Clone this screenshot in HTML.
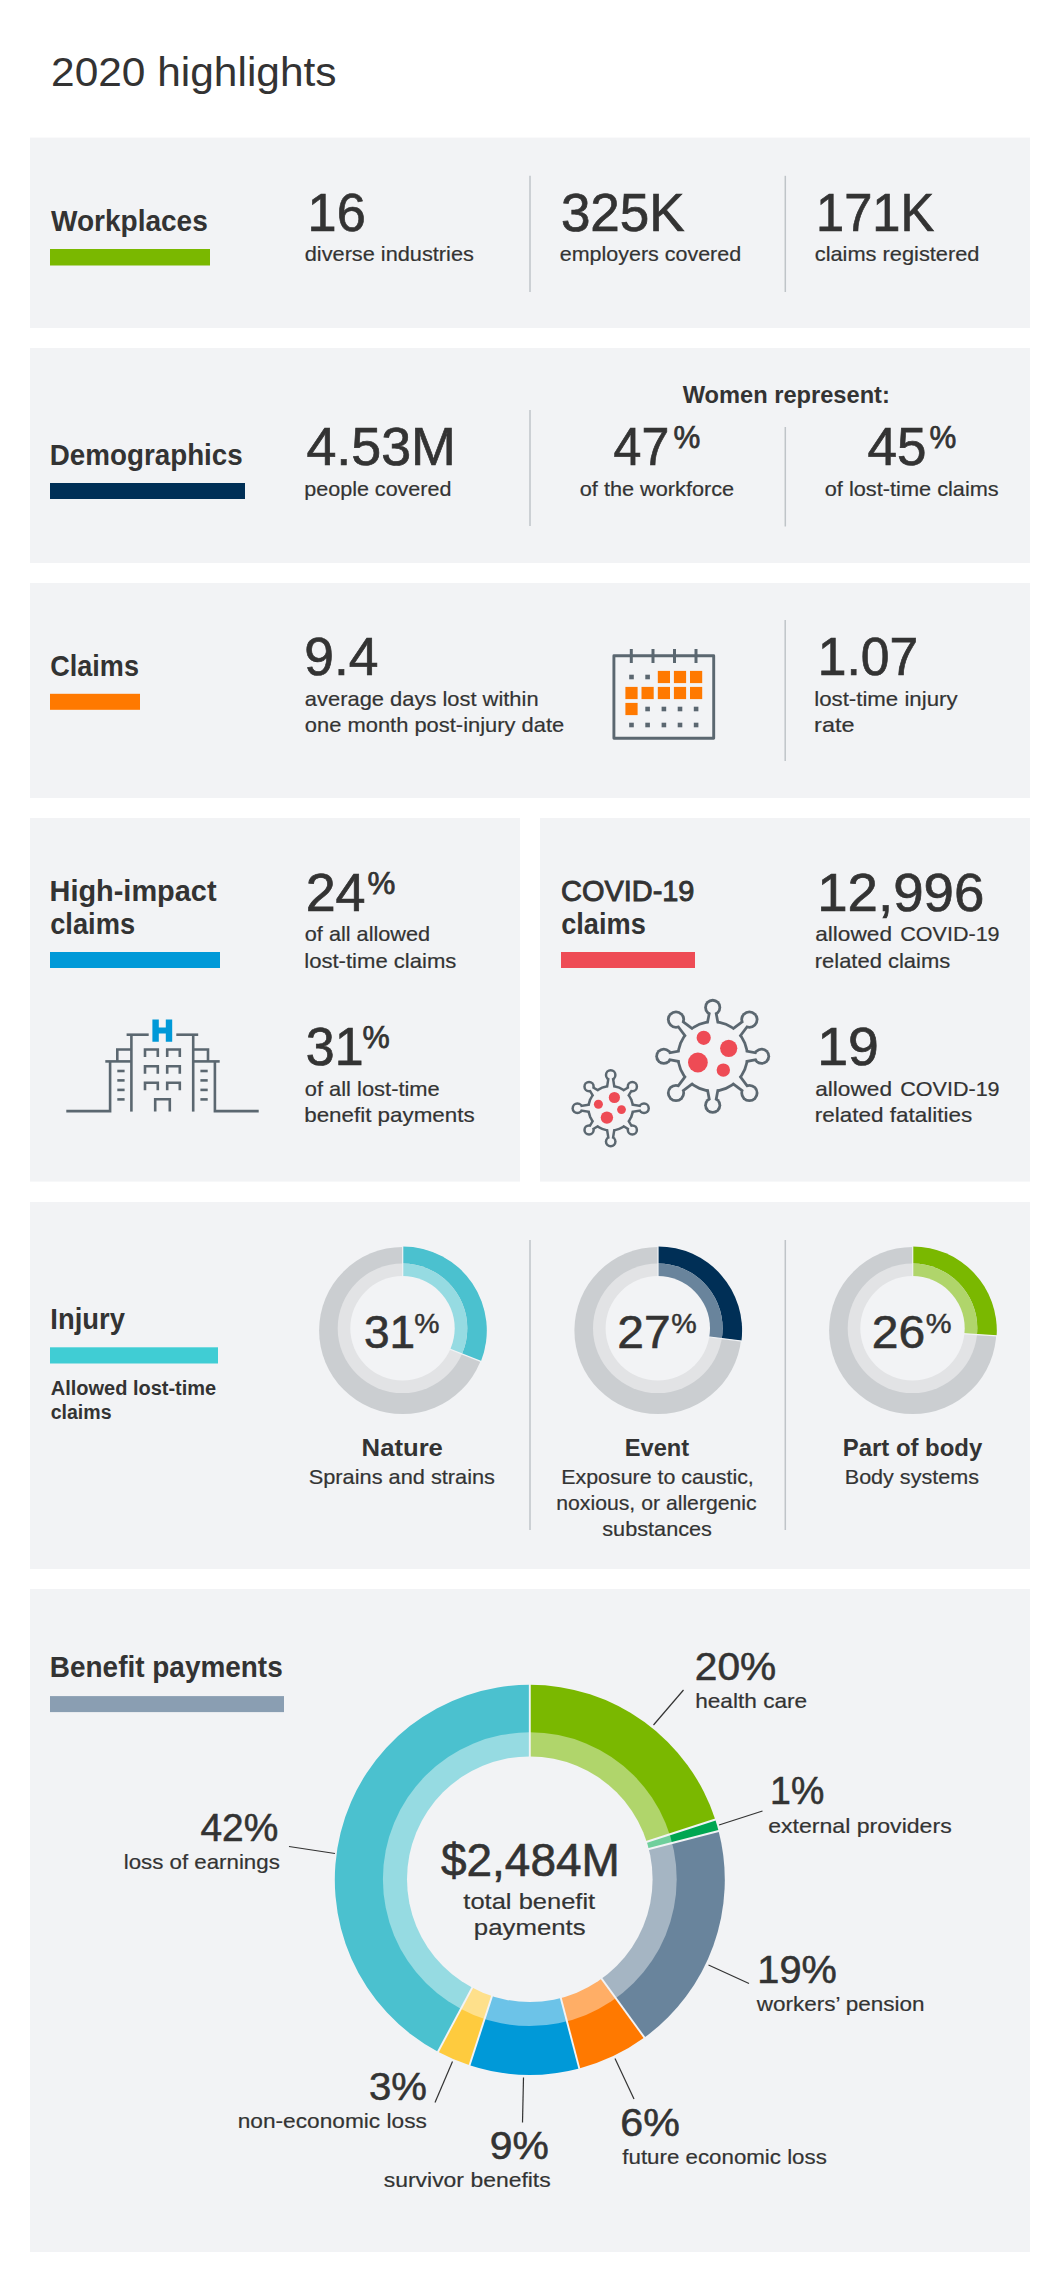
<!DOCTYPE html>
<html lang="en"><head><meta charset="utf-8"><title>2020 highlights</title>
<style>html,body{margin:0;padding:0;background:#fff}svg{display:block}text{font-family:"Liberation Sans",sans-serif}</style></head>
<body>
<svg width="1060" height="2280" viewBox="0 0 1060 2280" font-family='"Liberation Sans", sans-serif' role="img" aria-label="2020 highlights infographic">
<rect width="1060" height="2280" fill="#ffffff"/>
<rect x="30" y="137.6" width="1000" height="190.4" fill="#f2f3f5"/>
<rect x="30" y="348" width="1000" height="215" fill="#f2f3f5"/>
<rect x="30" y="583" width="1000" height="215" fill="#f2f3f5"/>
<rect x="30" y="818" width="490" height="363.6" fill="#f2f3f5"/>
<rect x="540" y="818" width="490" height="363.6" fill="#f2f3f5"/>
<rect x="30" y="1202" width="1000" height="367" fill="#f2f3f5"/>
<rect x="30" y="1589" width="1000" height="663" fill="#f2f3f5"/>
<rect x="50" y="249" width="160" height="16.5" fill="#7ab800"/>
<rect x="50" y="483" width="195" height="16" fill="#002f56"/>
<rect x="50" y="693.8" width="90" height="16" fill="#ff7900"/>
<rect x="50" y="952" width="170" height="16" fill="#0099d8"/>
<rect x="561" y="952" width="134" height="16" fill="#ee4b55"/>
<rect x="50" y="1347.3" width="168" height="16.2" fill="#40cdd4"/>
<rect x="50" y="1696.1" width="234" height="16" fill="#8a9eb2"/>
<line x1="530" y1="175.8" x2="530" y2="292" stroke="#bfc4c8" stroke-width="1.5"/>
<line x1="785.3" y1="175.8" x2="785.3" y2="292" stroke="#bfc4c8" stroke-width="1.5"/>
<line x1="530" y1="410" x2="530" y2="526" stroke="#bfc4c8" stroke-width="1.5"/>
<line x1="785.3" y1="427" x2="785.3" y2="526.5" stroke="#bfc4c8" stroke-width="1.5"/>
<line x1="785.2" y1="620" x2="785.2" y2="761" stroke="#bfc4c8" stroke-width="1.5"/>
<line x1="530" y1="1240" x2="530" y2="1530" stroke="#bfc4c8" stroke-width="1.5"/>
<line x1="785.3" y1="1240" x2="785.3" y2="1530" stroke="#bfc4c8" stroke-width="1.5"/>
<rect x="613.9" y="655.75" width="99.8" height="82.5" fill="none" stroke="#5b6770" stroke-width="2.9" stroke-linejoin="round"/>
<line x1="631.3" y1="649" x2="631.3" y2="663" stroke="#5b6770" stroke-width="3"/>
<line x1="653" y1="649" x2="653" y2="663" stroke="#5b6770" stroke-width="3"/>
<line x1="674.5" y1="649" x2="674.5" y2="663" stroke="#5b6770" stroke-width="3"/>
<line x1="696" y1="649" x2="696" y2="663" stroke="#5b6770" stroke-width="3"/>
<rect x="629.2" y="674.7" width="4.6" height="4.6" fill="#5b6770"/>
<rect x="645.3" y="674.7" width="4.6" height="4.6" fill="#5b6770"/>
<rect x="657.8" y="670.9" width="12.2" height="12.2" fill="#ff7900"/>
<rect x="673.9" y="670.9" width="12.2" height="12.2" fill="#ff7900"/>
<rect x="690.0" y="670.9" width="12.2" height="12.2" fill="#ff7900"/>
<rect x="625.4" y="686.9" width="12.2" height="12.2" fill="#ff7900"/>
<rect x="641.5" y="686.9" width="12.2" height="12.2" fill="#ff7900"/>
<rect x="657.8" y="686.9" width="12.2" height="12.2" fill="#ff7900"/>
<rect x="673.9" y="686.9" width="12.2" height="12.2" fill="#ff7900"/>
<rect x="690.0" y="686.9" width="12.2" height="12.2" fill="#ff7900"/>
<rect x="625.4" y="702.9" width="12.2" height="12.2" fill="#ff7900"/>
<rect x="645.3" y="706.7" width="4.6" height="4.6" fill="#5b6770"/>
<rect x="661.6" y="706.7" width="4.6" height="4.6" fill="#5b6770"/>
<rect x="677.7" y="706.7" width="4.6" height="4.6" fill="#5b6770"/>
<rect x="693.8" y="706.7" width="4.6" height="4.6" fill="#5b6770"/>
<rect x="629.2" y="722.7" width="4.6" height="4.6" fill="#5b6770"/>
<rect x="645.3" y="722.7" width="4.6" height="4.6" fill="#5b6770"/>
<rect x="661.6" y="722.7" width="4.6" height="4.6" fill="#5b6770"/>
<rect x="677.7" y="722.7" width="4.6" height="4.6" fill="#5b6770"/>
<rect x="693.8" y="722.7" width="4.6" height="4.6" fill="#5b6770"/>
<path d="M66.3 1111.1H110.1V1061.4" fill="none" stroke="#5b6770" stroke-width="2.6"/>
<path d="M105.3 1061.4H131.4" fill="none" stroke="#5b6770" stroke-width="2.6"/>
<path d="M117.3 1061.4V1049.5H131.4" fill="none" stroke="#5b6770" stroke-width="2.6"/>
<path d="M131.4 1111.6V1034.7" fill="none" stroke="#5b6770" stroke-width="2.6"/>
<path d="M126.6 1034.7H148.7" fill="none" stroke="#5b6770" stroke-width="2.6"/>
<path d="M176.3 1034.7H198.2" fill="none" stroke="#5b6770" stroke-width="2.6"/>
<path d="M193.2 1034.7V1111.6" fill="none" stroke="#5b6770" stroke-width="2.6"/>
<path d="M193.2 1049.5H208V1061.4" fill="none" stroke="#5b6770" stroke-width="2.6"/>
<path d="M193.2 1061.4H219.7" fill="none" stroke="#5b6770" stroke-width="2.6"/>
<path d="M214.9 1061.4V1111.1H258.7" fill="none" stroke="#5b6770" stroke-width="2.6"/>
<path d="M145 1057.0V1049.5H157.8V1057.0" fill="none" stroke="#5b6770" stroke-width="2.6"/>
<path d="M167.2 1057.0V1049.5H179.8V1057.0" fill="none" stroke="#5b6770" stroke-width="2.6"/>
<path d="M145 1073.7V1066.2H157.8V1073.7" fill="none" stroke="#5b6770" stroke-width="2.6"/>
<path d="M167.2 1073.7V1066.2H179.8V1073.7" fill="none" stroke="#5b6770" stroke-width="2.6"/>
<path d="M145 1090.2V1082.7H157.8V1090.2" fill="none" stroke="#5b6770" stroke-width="2.6"/>
<path d="M167.2 1090.2V1082.7H179.8V1090.2" fill="none" stroke="#5b6770" stroke-width="2.6"/>
<path d="M155.2 1111.6V1099.2H169.8V1111.6" fill="none" stroke="#5b6770" stroke-width="2.6"/>
<path d="M117.3 1071H124.6" fill="none" stroke="#5b6770" stroke-width="2.6"/>
<path d="M200.4 1071H207.7" fill="none" stroke="#5b6770" stroke-width="2.6"/>
<path d="M117.3 1080.4H124.6" fill="none" stroke="#5b6770" stroke-width="2.6"/>
<path d="M200.4 1080.4H207.7" fill="none" stroke="#5b6770" stroke-width="2.6"/>
<path d="M117.3 1089.9H124.6" fill="none" stroke="#5b6770" stroke-width="2.6"/>
<path d="M200.4 1089.9H207.7" fill="none" stroke="#5b6770" stroke-width="2.6"/>
<path d="M117.3 1099.4H124.6" fill="none" stroke="#5b6770" stroke-width="2.6"/>
<path d="M200.4 1099.4H207.7" fill="none" stroke="#5b6770" stroke-width="2.6"/>
<path d="M152.4 1019.5h6.4v8h7v-8h6.4v22.2h-6.4v-8.2h-7v8.2h-6.4z" fill="#0099d8"/>
<circle cx="712.7" cy="1056.3" r="36.10" fill="#5b6770"/>
<polygon points="720.04,1026.60 716.43,1007.40 708.97,1007.40 705.36,1026.60" fill="#5b6770"/>
<circle cx="712.70" cy="1007.40" r="8.55" fill="#5b6770"/>
<polygon points="738.74,1040.34 752.16,1022.36 746.64,1016.84 728.66,1030.26" fill="#5b6770"/>
<circle cx="749.40" cy="1019.60" r="9.10" fill="#5b6770"/>
<polygon points="742.40,1063.64 761.60,1060.03 761.60,1052.57 742.40,1048.96" fill="#5b6770"/>
<circle cx="761.60" cy="1056.30" r="8.55" fill="#5b6770"/>
<polygon points="728.66,1082.34 746.64,1095.76 752.16,1090.24 738.74,1072.26" fill="#5b6770"/>
<circle cx="749.40" cy="1093.00" r="9.10" fill="#5b6770"/>
<polygon points="705.36,1086.00 708.97,1105.20 716.43,1105.20 720.04,1086.00" fill="#5b6770"/>
<circle cx="712.70" cy="1105.20" r="8.55" fill="#5b6770"/>
<polygon points="686.66,1072.26 673.24,1090.24 678.76,1095.76 696.74,1082.34" fill="#5b6770"/>
<circle cx="676.00" cy="1093.00" r="9.10" fill="#5b6770"/>
<polygon points="683.00,1048.96 663.80,1052.57 663.80,1060.03 683.00,1063.64" fill="#5b6770"/>
<circle cx="663.80" cy="1056.30" r="8.55" fill="#5b6770"/>
<polygon points="696.74,1030.26 678.76,1016.84 673.24,1022.36 686.66,1040.34" fill="#5b6770"/>
<circle cx="676.00" cy="1019.60" r="9.10" fill="#5b6770"/>
<circle cx="712.7" cy="1056.3" r="33.30" fill="#f2f3f5"/>
<polygon points="717.24,1026.60 713.63,1007.40 711.77,1007.40 708.16,1026.60" fill="#f2f3f5"/>
<circle cx="712.70" cy="1007.40" r="5.75" fill="#f2f3f5"/>
<polygon points="736.76,1038.36 750.18,1020.38 748.62,1018.82 730.64,1032.24" fill="#f2f3f5"/>
<circle cx="749.40" cy="1019.60" r="6.30" fill="#f2f3f5"/>
<polygon points="742.40,1060.84 761.60,1057.23 761.60,1055.37 742.40,1051.76" fill="#f2f3f5"/>
<circle cx="761.60" cy="1056.30" r="5.75" fill="#f2f3f5"/>
<polygon points="730.64,1080.36 748.62,1093.78 750.18,1092.22 736.76,1074.24" fill="#f2f3f5"/>
<circle cx="749.40" cy="1093.00" r="6.30" fill="#f2f3f5"/>
<polygon points="708.16,1086.00 711.77,1105.20 713.63,1105.20 717.24,1086.00" fill="#f2f3f5"/>
<circle cx="712.70" cy="1105.20" r="5.75" fill="#f2f3f5"/>
<polygon points="688.64,1074.24 675.22,1092.22 676.78,1093.78 694.76,1080.36" fill="#f2f3f5"/>
<circle cx="676.00" cy="1093.00" r="6.30" fill="#f2f3f5"/>
<polygon points="683.00,1051.76 663.80,1055.37 663.80,1057.23 683.00,1060.84" fill="#f2f3f5"/>
<circle cx="663.80" cy="1056.30" r="5.75" fill="#f2f3f5"/>
<polygon points="694.76,1032.24 676.78,1018.82 675.22,1020.38 688.64,1038.36" fill="#f2f3f5"/>
<circle cx="676.00" cy="1019.60" r="6.30" fill="#f2f3f5"/>
<circle cx="703.7" cy="1037.8" r="7.1" fill="#ee4b55"/>
<circle cx="728.7" cy="1048.3" r="8.6" fill="#ee4b55"/>
<circle cx="697.9" cy="1062.5" r="9.9" fill="#ee4b55"/>
<circle cx="723.3" cy="1070.1" r="6.7" fill="#ee4b55"/>
<circle cx="610.7" cy="1108.3" r="23.55" fill="#5b6770"/>
<polygon points="616.24,1091.00 613.71,1075.00 607.69,1075.00 605.16,1091.00" fill="#5b6770"/>
<circle cx="610.70" cy="1075.00" r="5.95" fill="#5b6770"/>
<polygon points="627.17,1100.30 634.24,1088.57 630.43,1084.76 618.70,1091.83" fill="#5b6770"/>
<circle cx="632.34" cy="1086.66" r="5.80" fill="#5b6770"/>
<polygon points="628.00,1113.84 644.00,1111.31 644.00,1105.29 628.00,1102.76" fill="#5b6770"/>
<circle cx="644.00" cy="1108.30" r="5.95" fill="#5b6770"/>
<polygon points="618.70,1124.77 630.43,1131.84 634.24,1128.03 627.17,1116.30" fill="#5b6770"/>
<circle cx="632.34" cy="1129.94" r="5.80" fill="#5b6770"/>
<polygon points="605.16,1125.60 607.69,1141.60 613.71,1141.60 616.24,1125.60" fill="#5b6770"/>
<circle cx="610.70" cy="1141.60" r="5.95" fill="#5b6770"/>
<polygon points="594.23,1116.30 587.16,1128.03 590.97,1131.84 602.70,1124.77" fill="#5b6770"/>
<circle cx="589.06" cy="1129.94" r="5.80" fill="#5b6770"/>
<polygon points="593.40,1102.76 577.40,1105.29 577.40,1111.31 593.40,1113.84" fill="#5b6770"/>
<circle cx="577.40" cy="1108.30" r="5.95" fill="#5b6770"/>
<polygon points="602.70,1091.83 590.97,1084.76 587.16,1088.57 594.23,1100.30" fill="#5b6770"/>
<circle cx="589.06" cy="1086.66" r="5.80" fill="#5b6770"/>
<circle cx="610.7" cy="1108.3" r="21.05" fill="#f2f3f5"/>
<polygon points="613.74,1091.00 611.21,1075.00 610.19,1075.00 607.66,1091.00" fill="#f2f3f5"/>
<circle cx="610.70" cy="1075.00" r="3.45" fill="#f2f3f5"/>
<polygon points="625.40,1098.54 632.47,1086.80 632.20,1086.53 620.46,1093.60" fill="#f2f3f5"/>
<circle cx="632.34" cy="1086.66" r="3.30" fill="#f2f3f5"/>
<polygon points="628.00,1111.34 644.00,1108.81 644.00,1107.79 628.00,1105.26" fill="#f2f3f5"/>
<circle cx="644.00" cy="1108.30" r="3.45" fill="#f2f3f5"/>
<polygon points="620.46,1123.00 632.20,1130.07 632.47,1129.80 625.40,1118.06" fill="#f2f3f5"/>
<circle cx="632.34" cy="1129.94" r="3.30" fill="#f2f3f5"/>
<polygon points="607.66,1125.60 610.19,1141.60 611.21,1141.60 613.74,1125.60" fill="#f2f3f5"/>
<circle cx="610.70" cy="1141.60" r="3.45" fill="#f2f3f5"/>
<polygon points="596.00,1118.06 588.93,1129.80 589.20,1130.07 600.94,1123.00" fill="#f2f3f5"/>
<circle cx="589.06" cy="1129.94" r="3.30" fill="#f2f3f5"/>
<polygon points="593.40,1105.26 577.40,1107.79 577.40,1108.81 593.40,1111.34" fill="#f2f3f5"/>
<circle cx="577.40" cy="1108.30" r="3.45" fill="#f2f3f5"/>
<polygon points="600.94,1093.60 589.20,1086.53 588.93,1086.80 596.00,1098.54" fill="#f2f3f5"/>
<circle cx="589.06" cy="1086.66" r="3.30" fill="#f2f3f5"/>
<circle cx="614.4" cy="1097.5" r="5.6" fill="#ee4b55"/>
<circle cx="598.4" cy="1104.2" r="4.5" fill="#ee4b55"/>
<circle cx="621.5" cy="1109.6" r="4.4" fill="#ee4b55"/>
<circle cx="606.9" cy="1117.6" r="6.2" fill="#ee4b55"/>
<clipPath id="dm1"><circle cx="402.5" cy="1328.3" r="64.8"/></clipPath>
<circle cx="402.7" cy="1330.5" r="83.6" fill="#cbced1"/>
<path d="M402.7 1330.5L402.70 1246.40A84.1 84.1 0 0 1 480.89 1361.46Z" fill="#4bc1cf"/>
<circle cx="402.5" cy="1328.3" r="64.8" fill="#e2e3e5"/>
<path d="M402.7 1330.5L402.70 1246.90A83.6 83.6 0 0 1 480.43 1361.28Z" fill="#96dbe2" clip-path="url(#dm1)"/>
<line x1="402.70" y1="1300.50" x2="402.70" y2="1245.90" stroke="#f2f3f5" stroke-width="1.2"/>
<line x1="430.59" y1="1341.54" x2="481.36" y2="1361.64" stroke="#f2f3f5" stroke-width="1.2"/>
<circle cx="402.5" cy="1328.3" r="52.2" fill="#f2f3f5"/>
<clipPath id="dm2"><circle cx="657.8" cy="1328.3" r="64.8"/></clipPath>
<circle cx="658" cy="1330.5" r="83.6" fill="#cbced1"/>
<path d="M658 1330.5L658.00 1246.40A84.1 84.1 0 0 1 741.44 1341.04Z" fill="#002f56"/>
<circle cx="657.8" cy="1328.3" r="64.8" fill="#e2e3e5"/>
<path d="M658 1330.5L658.00 1246.90A83.6 83.6 0 0 1 740.94 1340.98Z" fill="#69849c" clip-path="url(#dm2)"/>
<line x1="658.00" y1="1300.50" x2="658.00" y2="1245.90" stroke="#f2f3f5" stroke-width="1.2"/>
<line x1="687.76" y1="1334.26" x2="741.93" y2="1341.10" stroke="#f2f3f5" stroke-width="1.2"/>
<circle cx="657.8" cy="1328.3" r="52.2" fill="#f2f3f5"/>
<clipPath id="dm3"><circle cx="912.5" cy="1328.3" r="64.8"/></clipPath>
<circle cx="912.7" cy="1330.5" r="83.6" fill="#cbced1"/>
<path d="M912.7 1330.5L912.70 1246.40A84.1 84.1 0 0 1 996.63 1335.78Z" fill="#7ab800"/>
<circle cx="912.5" cy="1328.3" r="64.8" fill="#e2e3e5"/>
<path d="M912.7 1330.5L912.70 1246.90A83.6 83.6 0 0 1 996.14 1335.75Z" fill="#b0d56b" clip-path="url(#dm3)"/>
<line x1="912.70" y1="1300.50" x2="912.70" y2="1245.90" stroke="#f2f3f5" stroke-width="1.2"/>
<line x1="942.64" y1="1332.38" x2="997.13" y2="1335.81" stroke="#f2f3f5" stroke-width="1.2"/>
<circle cx="912.5" cy="1328.3" r="52.2" fill="#f2f3f5"/>
<clipPath id="pm"><circle cx="529.8" cy="1879.2" r="146.9"/></clipPath>
<path d="M529.8 1879.8L529.80 1684.80A195 195 0 0 1 715.26 1819.54Z" fill="#7ab800"/>
<path d="M529.8 1879.8L715.26 1819.54A195 195 0 0 1 718.59 1830.98Z" fill="#00a651"/>
<path d="M529.8 1879.8L718.59 1830.98A195 195 0 0 1 644.42 2037.56Z" fill="#69849c"/>
<path d="M529.8 1879.8L644.42 2037.56A195 195 0 0 1 579.28 2068.42Z" fill="#ff7900"/>
<path d="M529.8 1879.8L579.28 2068.42A195 195 0 0 1 469.54 2065.26Z" fill="#0099d8"/>
<path d="M529.8 1879.8L469.54 2065.26A195 195 0 0 1 437.95 2051.81Z" fill="#fecb3e"/>
<path d="M529.8 1879.8L437.95 2051.81A195 195 0 0 1 529.80 1684.80Z" fill="#4bc1cf"/>
<path d="M529.8 1879.8L529.80 1684.80A195 195 0 0 1 715.26 1819.54Z" fill="#b0d56b" clip-path="url(#pm)"/>
<path d="M529.8 1879.8L715.26 1819.54A195 195 0 0 1 718.59 1830.98Z" fill="#6fcf9c" clip-path="url(#pm)"/>
<path d="M529.8 1879.8L718.59 1830.98A195 195 0 0 1 644.42 2037.56Z" fill="#a5b5c3" clip-path="url(#pm)"/>
<path d="M529.8 1879.8L644.42 2037.56A195 195 0 0 1 579.28 2068.42Z" fill="#ffae66" clip-path="url(#pm)"/>
<path d="M529.8 1879.8L579.28 2068.42A195 195 0 0 1 469.54 2065.26Z" fill="#6cc3e8" clip-path="url(#pm)"/>
<path d="M529.8 1879.8L469.54 2065.26A195 195 0 0 1 437.95 2051.81Z" fill="#fee08b" clip-path="url(#pm)"/>
<path d="M529.8 1879.8L437.95 2051.81A195 195 0 0 1 529.80 1684.80Z" fill="#96dbe2" clip-path="url(#pm)"/>
<line x1="529.80" y1="1819.80" x2="529.80" y2="1683.80" stroke="#f2f3f5" stroke-width="1.9"/>
<line x1="586.86" y1="1861.26" x2="716.21" y2="1819.23" stroke="#f2f3f5" stroke-width="1.9"/>
<line x1="587.89" y1="1864.78" x2="719.56" y2="1830.73" stroke="#f2f3f5" stroke-width="1.9"/>
<line x1="565.07" y1="1928.34" x2="645.01" y2="2038.37" stroke="#f2f3f5" stroke-width="1.9"/>
<line x1="545.03" y1="1937.84" x2="579.54" y2="2069.38" stroke="#f2f3f5" stroke-width="1.9"/>
<line x1="511.26" y1="1936.86" x2="469.23" y2="2066.21" stroke="#f2f3f5" stroke-width="1.9"/>
<line x1="501.54" y1="1932.73" x2="437.48" y2="2052.70" stroke="#f2f3f5" stroke-width="1.9"/>
<circle cx="529.8" cy="1879.2" r="122.8" fill="#f2f3f5"/>
<line x1="653.5" y1="1725" x2="683.5" y2="1690" stroke="#333" stroke-width="1.2"/>
<line x1="719" y1="1825" x2="762.5" y2="1811" stroke="#333" stroke-width="1.2"/>
<line x1="289" y1="1846.5" x2="335" y2="1853.5" stroke="#333" stroke-width="1.2"/>
<line x1="708.5" y1="1965" x2="749" y2="1983.5" stroke="#333" stroke-width="1.2"/>
<line x1="615" y1="2058.5" x2="634" y2="2099" stroke="#333" stroke-width="1.2"/>
<line x1="452.5" y1="2061.5" x2="435" y2="2102.5" stroke="#333" stroke-width="1.2"/>
<line x1="523.5" y1="2077.5" x2="522.5" y2="2122.5" stroke="#333" stroke-width="1.2"/>
<text x="51.04" y="85.80" font-size="41.3" font-weight="normal" fill="#333333" textLength="285.52" lengthAdjust="spacingAndGlyphs">2020 highlights</text>
<text x="50.95" y="231.25" font-size="29.5" font-weight="bold" fill="#333333" textLength="156.86" lengthAdjust="spacingAndGlyphs">Workplaces</text>
<text x="307.58" y="231.40" font-size="54" font-weight="normal" fill="#333333" stroke="#333333" stroke-width="0.7" textLength="58.17" lengthAdjust="spacingAndGlyphs">16</text>
<text x="304.77" y="261.40" font-size="21" font-weight="normal" fill="#333333" stroke="#333333" stroke-width="0.2" textLength="169.12" lengthAdjust="spacingAndGlyphs">diverse industries</text>
<text x="560.89" y="231.20" font-size="54" font-weight="normal" fill="#333333" stroke="#333333" stroke-width="0.7" textLength="123.88" lengthAdjust="spacingAndGlyphs">325K</text>
<text x="559.78" y="261.40" font-size="21" font-weight="normal" fill="#333333" stroke="#333333" stroke-width="0.2" textLength="181.38" lengthAdjust="spacingAndGlyphs">employers covered</text>
<text x="816.00" y="231.20" font-size="54" font-weight="normal" fill="#333333" stroke="#333333" stroke-width="0.7" textLength="118.24" lengthAdjust="spacingAndGlyphs">171K</text>
<text x="814.76" y="261.40" font-size="21" font-weight="normal" fill="#333333" stroke="#333333" stroke-width="0.2" textLength="164.72" lengthAdjust="spacingAndGlyphs">claims registered</text>
<text x="49.82" y="464.70" font-size="29.5" font-weight="bold" fill="#333333" textLength="192.92" lengthAdjust="spacingAndGlyphs">Demographics</text>
<text x="306.45" y="464.90" font-size="54" font-weight="normal" fill="#333333" stroke="#333333" stroke-width="0.7" textLength="149.47" lengthAdjust="spacingAndGlyphs">4.53M</text>
<text x="304.26" y="495.60" font-size="21" font-weight="normal" fill="#333333" stroke="#333333" stroke-width="0.2" textLength="147.19" lengthAdjust="spacingAndGlyphs">people covered</text>
<text x="682.70" y="403.00" font-size="23" font-weight="bold" fill="#333333" textLength="207.17" lengthAdjust="spacingAndGlyphs">Women represent:</text>
<text x="613.62" y="465.00" font-size="54" font-weight="normal" fill="#333333" stroke="#333333" stroke-width="0.7" textLength="55.72" lengthAdjust="spacingAndGlyphs">47</text>
<text x="673.62" y="447.50" font-size="31.5" font-weight="normal" fill="#333333" stroke="#333333" stroke-width="0.75" textLength="26.78" lengthAdjust="spacingAndGlyphs">%</text>
<text x="579.77" y="495.60" font-size="21" font-weight="normal" fill="#333333" stroke="#333333" stroke-width="0.2" textLength="154.37" lengthAdjust="spacingAndGlyphs">of the workforce</text>
<text x="867.57" y="465.00" font-size="54" font-weight="normal" fill="#333333" stroke="#333333" stroke-width="0.7" textLength="58.92" lengthAdjust="spacingAndGlyphs">45</text>
<text x="929.62" y="447.50" font-size="31.5" font-weight="normal" fill="#333333" stroke="#333333" stroke-width="0.75" textLength="26.78" lengthAdjust="spacingAndGlyphs">%</text>
<text x="824.76" y="495.60" font-size="21" font-weight="normal" fill="#333333" stroke="#333333" stroke-width="0.2" textLength="173.99" lengthAdjust="spacingAndGlyphs">of lost-time claims</text>
<text x="50.28" y="675.80" font-size="29.5" font-weight="bold" fill="#333333" textLength="88.66" lengthAdjust="spacingAndGlyphs">Claims</text>
<text x="304.28" y="675.00" font-size="54" font-weight="normal" fill="#333333" stroke="#333333" stroke-width="0.7" textLength="74.23" lengthAdjust="spacingAndGlyphs">9.4</text>
<text x="304.86" y="705.80" font-size="21" font-weight="normal" fill="#333333" stroke="#333333" stroke-width="0.2" textLength="233.72" lengthAdjust="spacingAndGlyphs">average days lost within</text>
<text x="304.86" y="731.50" font-size="21" font-weight="normal" fill="#333333" stroke="#333333" stroke-width="0.2" textLength="259.33" lengthAdjust="spacingAndGlyphs">one month post-injury date</text>
<text x="817.72" y="675.00" font-size="54" font-weight="normal" fill="#333333" stroke="#333333" stroke-width="0.7" textLength="100.52" lengthAdjust="spacingAndGlyphs">1.07</text>
<text x="814.21" y="706.00" font-size="21" font-weight="normal" fill="#333333" stroke="#333333" stroke-width="0.2" textLength="143.36" lengthAdjust="spacingAndGlyphs">lost-time injury</text>
<text x="814.13" y="731.50" font-size="21" font-weight="normal" fill="#333333" stroke="#333333" stroke-width="0.2" textLength="40.34" lengthAdjust="spacingAndGlyphs">rate</text>
<text x="49.54" y="901.30" font-size="29.5" font-weight="bold" fill="#333333" textLength="167.00" lengthAdjust="spacingAndGlyphs">High-impact</text>
<text x="50.18" y="934.00" font-size="29.5" font-weight="bold" fill="#333333" textLength="84.87" lengthAdjust="spacingAndGlyphs">claims</text>
<text x="305.65" y="910.50" font-size="54" font-weight="normal" fill="#333333" stroke="#333333" stroke-width="0.7" textLength="59.97" lengthAdjust="spacingAndGlyphs">24</text>
<text x="367.58" y="894.00" font-size="31.5" font-weight="normal" fill="#333333" stroke="#333333" stroke-width="0.75" textLength="27.85" lengthAdjust="spacingAndGlyphs">%</text>
<text x="304.77" y="941.30" font-size="21" font-weight="normal" fill="#333333" stroke="#333333" stroke-width="0.2" textLength="125.39" lengthAdjust="spacingAndGlyphs">of all allowed</text>
<text x="304.22" y="967.50" font-size="21" font-weight="normal" fill="#333333" stroke="#333333" stroke-width="0.2" textLength="152.20" lengthAdjust="spacingAndGlyphs">lost-time claims</text>
<text x="305.83" y="1064.50" font-size="54" font-weight="normal" fill="#333333" stroke="#333333" stroke-width="0.7" textLength="57.80" lengthAdjust="spacingAndGlyphs">31</text>
<text x="362.50" y="1048.00" font-size="31.5" font-weight="normal" fill="#333333" stroke="#333333" stroke-width="0.75" textLength="27.21" lengthAdjust="spacingAndGlyphs">%</text>
<text x="304.76" y="1095.60" font-size="21" font-weight="normal" fill="#333333" stroke="#333333" stroke-width="0.2" textLength="135.03" lengthAdjust="spacingAndGlyphs">of all lost-time</text>
<text x="304.20" y="1121.80" font-size="21" font-weight="normal" fill="#333333" stroke="#333333" stroke-width="0.2" textLength="170.50" lengthAdjust="spacingAndGlyphs">benefit payments</text>
<text x="561.10" y="901.30" font-size="29.5" font-weight="normal" fill="#333333" stroke="#333333" stroke-width="0.95" textLength="133.37" lengthAdjust="spacingAndGlyphs">COVID-19</text>
<text x="561.18" y="933.60" font-size="29.5" font-weight="bold" fill="#333333" textLength="84.56" lengthAdjust="spacingAndGlyphs">claims</text>
<text x="817.20" y="910.50" font-size="54" font-weight="normal" fill="#333333" stroke="#333333" stroke-width="0.7" textLength="167.15" lengthAdjust="spacingAndGlyphs">12,996</text>
<text x="815.22" y="941.30" font-size="21" font-weight="normal" fill="#333333" stroke="#333333" stroke-width="0.2" textLength="76.79" lengthAdjust="spacingAndGlyphs">allowed</text>
<text x="900.27" y="941.30" font-size="21" font-weight="normal" fill="#333333" stroke="#333333" stroke-width="0.2" textLength="99.31" lengthAdjust="spacingAndGlyphs">COVID-19</text>
<text x="814.73" y="967.50" font-size="21" font-weight="normal" fill="#333333" stroke="#333333" stroke-width="0.2" textLength="135.56" lengthAdjust="spacingAndGlyphs">related claims</text>
<text x="817.15" y="1064.50" font-size="54" font-weight="normal" fill="#333333" stroke="#333333" stroke-width="0.7" textLength="61.65" lengthAdjust="spacingAndGlyphs">19</text>
<text x="815.22" y="1095.60" font-size="21" font-weight="normal" fill="#333333" stroke="#333333" stroke-width="0.2" textLength="76.79" lengthAdjust="spacingAndGlyphs">allowed</text>
<text x="900.27" y="1095.60" font-size="21" font-weight="normal" fill="#333333" stroke="#333333" stroke-width="0.2" textLength="99.31" lengthAdjust="spacingAndGlyphs">COVID-19</text>
<text x="814.69" y="1121.80" font-size="21" font-weight="normal" fill="#333333" stroke="#333333" stroke-width="0.2" textLength="157.64" lengthAdjust="spacingAndGlyphs">related fatalities</text>
<text x="50.34" y="1328.50" font-size="29.5" font-weight="bold" fill="#333333" textLength="74.56" lengthAdjust="spacingAndGlyphs">Injury</text>
<text x="50.69" y="1395.00" font-size="19.5" font-weight="bold" fill="#333333" textLength="165.56" lengthAdjust="spacingAndGlyphs">Allowed lost-time</text>
<text x="50.70" y="1419.00" font-size="19.5" font-weight="bold" fill="#333333" textLength="60.82" lengthAdjust="spacingAndGlyphs">claims</text>
<text x="364.00" y="1347.60" font-size="46" font-weight="normal" fill="#333333" stroke="#333333" stroke-width="0.6" textLength="51.17" lengthAdjust="spacingAndGlyphs">31</text>
<text x="414.37" y="1332.50" font-size="27" font-weight="normal" fill="#333333" stroke="#333333" stroke-width="0.45" textLength="25.27" lengthAdjust="spacingAndGlyphs">%</text>
<text x="361.60" y="1455.50" font-size="24" font-weight="bold" fill="#333333" textLength="81.31" lengthAdjust="spacingAndGlyphs">Nature</text>
<text x="308.76" y="1484.00" font-size="21" font-weight="normal" fill="#333333" stroke="#333333" stroke-width="0.2" textLength="186.23" lengthAdjust="spacingAndGlyphs">Sprains and strains</text>
<text x="617.29" y="1347.60" font-size="46" font-weight="normal" fill="#333333" stroke="#333333" stroke-width="0.6" textLength="53.37" lengthAdjust="spacingAndGlyphs">27</text>
<text x="671.26" y="1332.50" font-size="27" font-weight="normal" fill="#333333" stroke="#333333" stroke-width="0.45" textLength="25.49" lengthAdjust="spacingAndGlyphs">%</text>
<text x="624.72" y="1455.50" font-size="24" font-weight="bold" fill="#333333" textLength="64.43" lengthAdjust="spacingAndGlyphs">Event</text>
<text x="561.27" y="1484.00" font-size="21" font-weight="normal" fill="#333333" stroke="#333333" stroke-width="0.2" textLength="192.55" lengthAdjust="spacingAndGlyphs">Exposure to caustic,</text>
<text x="556.29" y="1510.00" font-size="21" font-weight="normal" fill="#333333" stroke="#333333" stroke-width="0.2" textLength="200.37" lengthAdjust="spacingAndGlyphs">noxious, or allergenic</text>
<text x="602.28" y="1536.00" font-size="21" font-weight="normal" fill="#333333" stroke="#333333" stroke-width="0.2" textLength="109.67" lengthAdjust="spacingAndGlyphs">substances</text>
<text x="871.89" y="1347.60" font-size="46" font-weight="normal" fill="#333333" stroke="#333333" stroke-width="0.6" textLength="53.37" lengthAdjust="spacingAndGlyphs">26</text>
<text x="925.85" y="1332.50" font-size="27" font-weight="normal" fill="#333333" stroke="#333333" stroke-width="0.45" textLength="25.82" lengthAdjust="spacingAndGlyphs">%</text>
<text x="842.70" y="1455.50" font-size="24" font-weight="bold" fill="#333333" textLength="139.61" lengthAdjust="spacingAndGlyphs">Part of body</text>
<text x="844.76" y="1484.00" font-size="21" font-weight="normal" fill="#333333" stroke="#333333" stroke-width="0.2" textLength="134.18" lengthAdjust="spacingAndGlyphs">Body systems</text>
<text x="49.81" y="1677.30" font-size="29.5" font-weight="bold" fill="#333333" textLength="232.93" lengthAdjust="spacingAndGlyphs">Benefit payments</text>
<text x="200.47" y="1841.00" font-size="38.6" font-weight="normal" fill="#333333" stroke="#333333" stroke-width="0.55" textLength="77.79" lengthAdjust="spacingAndGlyphs">42%</text>
<text x="123.71" y="1869.00" font-size="21" font-weight="normal" fill="#333333" stroke="#333333" stroke-width="0.2" textLength="156.12" lengthAdjust="spacingAndGlyphs">loss of earnings</text>
<text x="694.87" y="1680.00" font-size="38.6" font-weight="normal" fill="#333333" stroke="#333333" stroke-width="0.55" textLength="81.44" lengthAdjust="spacingAndGlyphs">20%</text>
<text x="695.18" y="1708.00" font-size="21" font-weight="normal" fill="#333333" stroke="#333333" stroke-width="0.2" textLength="111.99" lengthAdjust="spacingAndGlyphs">health care</text>
<text x="770.06" y="1804.00" font-size="38.6" font-weight="normal" fill="#333333" stroke="#333333" stroke-width="0.55" textLength="54.20" lengthAdjust="spacingAndGlyphs">1%</text>
<text x="768.20" y="1832.50" font-size="21" font-weight="normal" fill="#333333" stroke="#333333" stroke-width="0.2" textLength="183.51" lengthAdjust="spacingAndGlyphs">external providers</text>
<text x="757.39" y="1982.50" font-size="38.6" font-weight="normal" fill="#333333" stroke="#333333" stroke-width="0.55" textLength="79.39" lengthAdjust="spacingAndGlyphs">19%</text>
<text x="756.80" y="2011.00" font-size="21" font-weight="normal" fill="#333333" stroke="#333333" stroke-width="0.2" textLength="167.79" lengthAdjust="spacingAndGlyphs">workers’ pension</text>
<text x="620.34" y="2136.00" font-size="38.6" font-weight="normal" fill="#333333" stroke="#333333" stroke-width="0.55" textLength="59.54" lengthAdjust="spacingAndGlyphs">6%</text>
<text x="622.30" y="2164.00" font-size="21" font-weight="normal" fill="#333333" stroke="#333333" stroke-width="0.2" textLength="204.53" lengthAdjust="spacingAndGlyphs">future economic loss</text>
<text x="368.92" y="2099.50" font-size="38.6" font-weight="normal" fill="#333333" stroke="#333333" stroke-width="0.55" textLength="57.92" lengthAdjust="spacingAndGlyphs">3%</text>
<text x="237.68" y="2128.00" font-size="21" font-weight="normal" fill="#333333" stroke="#333333" stroke-width="0.2" textLength="189.16" lengthAdjust="spacingAndGlyphs">non-economic loss</text>
<text x="489.86" y="2158.50" font-size="38.6" font-weight="normal" fill="#333333" stroke="#333333" stroke-width="0.55" textLength="59.01" lengthAdjust="spacingAndGlyphs">9%</text>
<text x="383.75" y="2186.50" font-size="21" font-weight="normal" fill="#333333" stroke="#333333" stroke-width="0.2" textLength="166.94" lengthAdjust="spacingAndGlyphs">survivor benefits</text>
<text x="441.00" y="1875.80" font-size="45.6" font-weight="normal" fill="#333333" stroke="#333333" stroke-width="0.6" textLength="178.77" lengthAdjust="spacingAndGlyphs">$2,484M</text>
<text x="463.33" y="1909.00" font-size="22.5" font-weight="normal" fill="#333333" stroke="#333333" stroke-width="0.2" textLength="131.89" lengthAdjust="spacingAndGlyphs">total benefit</text>
<text x="473.88" y="1934.80" font-size="22.5" font-weight="normal" fill="#333333" stroke="#333333" stroke-width="0.2" textLength="111.73" lengthAdjust="spacingAndGlyphs">payments</text>
</svg>
</body></html>
